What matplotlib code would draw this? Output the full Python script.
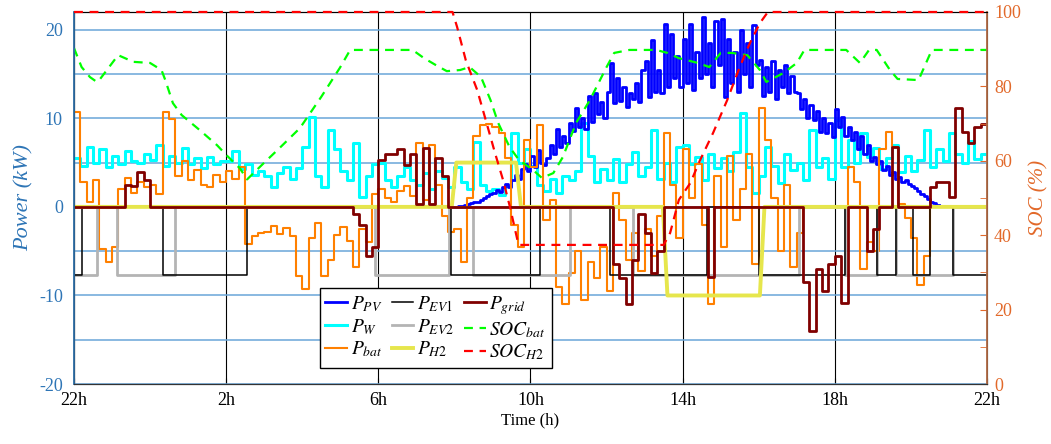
import numpy as np
import matplotlib
matplotlib.use('Agg')
import matplotlib.pyplot as plt
from matplotlib.ticker import MultipleLocator

plt.rcParams['font.family'] = ['Liberation Serif', 'DejaVu Serif']
plt.rcParams['mathtext.fontset'] = 'stix'
plt.rcParams['axes.unicode_minus'] = False

# PV: 5-minute samples from 8h (10 h after 22h) until sunset
pv_start = 10.0
p_pv = [
    0.0, 0.05, 0.1, 0.2, 0.3, 0.4, 0.5, 0.6, 0.8, 1.0, 1.2, 1.4,
    1.6, 1.9, 1.7, 2.3, 2.6, 2.2, 3.0, 3.6, 3.2, 4.3, 4.8, 4.1,
    5.8, 4.5, 6.4, 5.0, 4.7, 5.5, 7.0, 6.0, 8.8, 6.8, 8.0, 7.2,
    9.5, 8.6, 11.2, 9.0, 10.0, 8.8, 12.5, 9.6, 12.8, 10.5, 11.8, 10.0,
    13.0, 16.2, 11.7, 14.5, 12.0, 13.5, 11.3, 12.8, 12.2, 14.0, 11.8, 15.5,
    16.5, 12.4, 18.8, 13.0, 15.5, 12.8, 20.7, 13.5, 19.5, 14.5, 17.0, 13.5,
    19.0, 14.0, 20.7, 13.2, 17.5, 14.5, 21.4, 15.0, 18.5, 13.5, 21.0, 16.0,
    21.2, 12.4, 19.0, 14.0, 17.5, 13.0, 20.0, 15.0, 18.5, 13.5, 20.5, 16.0,
    16.6, 12.5, 15.8, 13.0, 16.5, 12.2, 15.5, 13.5, 16.0, 12.8, 14.8, 13.0,
    12.8, 11.0, 12.2, 10.0, 11.5, 9.8, 10.8, 8.5, 10.0, 8.3, 9.5, 7.9,
    11.0, 9.0, 10.2, 8.0, 9.0, 7.5, 8.5, 6.5, 8.0, 6.0, 7.0, 5.2,
    5.6, 4.8, 5.2, 4.2, 4.6, 3.6, 3.9, 3.2, 3.4, 2.8, 3.0, 2.6,
    2.4, 2.1, 1.8, 1.5, 1.2, 0.9, 0.6, 0.4, 0.2]

# 10-minute samples, from 22h to 22h next day (144 values)
p_w = [
    5.5, 4.6, 6.8, 5.0, 6.5, 4.5,
    5.8, 4.8, 6.3, 5.2, 4.9, 6.0,
    5.3, 7.0, 4.6, 5.8, 5.0, 6.6,
    4.8, 5.5, 4.4, 5.6, 4.8, 5.2,
    5.2, 6.3, 4.3, 4.8, 3.6, 4.0,
    3.5, 2.3, 3.8, 4.5, 3.2, 4.4,
    6.8, 10.1, 3.5, 2.2, 8.7, 6.5,
    4.0, 3.0, 7.2, 1.1, 3.5, 4.8,
    5.0, 3.0, 2.2, 3.5, 4.5, 3.0,
    2.5, 3.8, 2.0, 4.0, 3.3, 2.2,
    4.5, 2.8, 2.0, 7.3, 2.5, 1.8,
    2.0, 1.3, 2.4, 8.3, 5.0, 6.5,
    4.6, 2.5, 1.8, 3.2, 1.6, 3.5,
    3.0, 4.0, 9.5, 5.8, 2.8, 4.3,
    3.0, 5.4, 2.8, 4.8, 6.2, 3.5,
    4.5, 8.7, 3.2, 5.0, 2.8, 6.8,
    7.0, 4.8, 5.6, 3.0, 6.0, 4.4,
    5.5, 4.0, 6.2, 10.6, 4.5, 1.6,
    3.5, 6.8, 4.6, 2.7, 6.0, 4.2,
    5.0, 3.0, 8.7, 4.5, 5.5, 3.2,
    9.8, 4.5, 7.5, 5.0, 8.3, 5.6,
    6.6, 4.3, 5.5, 7.0, 3.9, 5.7,
    4.0, 5.3, 8.7, 4.5, 6.5, 5.2,
    8.3, 6.0, 5.0, 7.4, 5.4, 6.0]

p_bat = [
    10.7, 2.8, 0.6, 3.0, -4.8, -6.2,
    -4.5, 2.0, 3.3, 1.6, 2.8, 2.2,
    2.5, 1.5, 10.7, 9.9, 3.5, 5.2,
    3.0, 4.2, 2.5, 2.3, 3.6, 2.8,
    4.0, 3.2, 4.5, -4.2, -3.3, -3.0,
    -2.8, -2.2, -3.1, -2.4, -3.3, -7.8,
    -9.3, -3.5, -1.8, -7.8, -6.0, -3.2,
    -2.3, -3.8, -6.8, -2.5, -4.0, 1.5,
    2.0, 1.0, 0.5, 1.8, 2.4, 1.2,
    7.2, 0.8, 7.0, 2.5, -1.0, -2.8,
    -2.5, -6.2, 1.0, 8.0, 9.2, 9.4,
    9.0, 8.3, 5.5, -2.0, -4.5, 7.5,
    4.5, 9.2, -1.5, 0.8, -9.0, -11.0,
    -7.5, -5.0, -10.5, -6.2, -8.0, -4.5,
    -9.5, 1.6, -1.5, -6.0, -3.0, -7.2,
    -2.5, -5.5, -1.0, 8.3, 2.5, -3.5,
    6.5, 1.0, 4.8, -2.0, -11.0, 3.5,
    -4.5, 5.8, -1.5, 2.0, 6.0, -6.5,
    11.2, 7.5, 1.0, -5.0, 2.5, -6.8,
    -3.0, 0.0, 0.0, 0.0, 0.0, 0.0,
    0.0, 0.0, 4.5, 2.8, -7.0, -4.0,
    -5.0, 6.5, 8.5, 6.8, 0.3, -1.2,
    -3.5, -8.8, -5.5, 0.0, 0.0, 0.0,
    0.0, 0.0, 0.0, 0.0, 0.0, 0.0]

p_grid = [0.0] * 6 + [
    0.0, 0.0, 2.5, 2.4, 3.9, 3.0] + [0.0] * 30 + [
    0.0, 0.0, -0.8, -2.0, -5.6, -4.5,
    5.3, 6.0, 6.0, 6.5, 4.7, 6.0,
    0.3, 6.6, 0.3, 5.5, 3.5, 0.0] + [0.0] * 24 + [
    0.0, -6.5, -8.0, -11.0, -6.0, -0.8,
    -3.0, -7.5, -5.0, 0.0, 0.0, 0.0,
    0.0, 0.0, 0.0, 0.0, -7.9, 0.0] + [0.0] * 12 + [
    0.0, -8.5, -14.0, -7.0, -9.5, -6.5,
    -5.5, -10.8, 0.0, 0.0, 0.0, -5.0,
    -2.5, 0.0, 0.0, 6.8, 0.0, 0.0,
    0.0, 0.0, 0.0, 2.3, 2.8, 2.8,
    1.1, 11.2, 8.5, 7.2, 9.0, 9.3]

# switching events (hours after 22h)
ev1_t = [0, 0.2, 2.34, 4.55, 9.9, 12.25, 14.1, 16.65, 18.0, 20.27, 21.1, 21.6, 22.05, 22.5, 23.1, 24]
ev1_p = [-7.7, 0, -7.7, 0, -7.7, 0, -7.7, 0, -7.7, 0, -7.7, 0, -7.7, 0, -7.7, -7.7]
ev2_t = [0, 0.6, 1.13, 2.65, 7.9, 9.85, 10.5, 13.05, 14.7, 19.05, 20.27, 21.1, 21.6, 23.1, 24]
ev2_p = [-7.7, 0, -7.7, 0, -7.7, 0, -7.7, 0, -7.7, 0, -7.7, 0, -7.7, 0, 0]
h2_t = [0, 9.93, 10.05, 11.62, 11.75, 15.48, 15.6, 18.03, 18.15, 24]
h2_p = [0, 0, 5.0, 5.0, 0, 0, -10.0, -10.0, 0, 0]

soc_bat_t = [0, 0.2, 0.42, 0.6, 0.65, 1.16, 1.56, 2.0, 2.3, 2.4, 2.6, 2.83, 3.3, 3.76, 4.0,
             4.36, 4.55, 5.0, 5.4, 5.94, 6.5, 6.99, 7.26, 8.9, 9.2, 9.5, 9.8, 10.15, 10.4,
             10.7, 10.95, 11.15, 11.45, 11.7, 12.07, 12.3, 12.6, 12.85, 13.2, 13.56, 14.0,
             14.2, 14.6, 15.3, 15.6, 15.9, 16.4, 16.7, 17.0, 17.3, 17.7, 18.03, 18.2, 18.65,
             19.0, 19.2, 20.3, 20.66, 20.9, 21.1, 21.45, 21.65, 22.2, 22.55, 24]
soc_bat = [90.3, 85.2, 82.5, 81.2, 81.5, 88.4, 86.6, 86.3, 84.4, 81.7, 75.5, 72.3, 68.3, 64.2, 61.6,
           58.0, 55.0, 59.5, 63.4, 68.8, 77.2, 85.0, 89.8, 89.8, 87.6, 85.8, 84.1, 84.4, 85.2,
           82.5, 76.3, 70.2, 63.7, 60.2, 57.5, 55.4, 56.7, 61.0, 70.2, 76.3, 85.2,
           89.0, 89.8, 89.8, 89.0, 87.6, 86.3, 85.2, 89.0, 89.0, 88.4, 84.4, 81.2, 83.6,
           86.3, 89.8, 89.8, 86.3, 89.8, 89.8, 84.4, 82.0, 81.7, 89.8, 89.8]

soc_h2_t = [0, 9.95, 10.07, 10.3, 10.6, 10.85, 11.07, 11.28, 11.46, 11.65, 11.7, 15.5, 15.67,
            15.9, 16.2, 16.45, 16.8, 17.17, 17.5, 17.77, 18.03, 18.24, 24]
soc_h2 = [100, 100, 96, 87, 79, 70, 62, 54.8, 47.6, 39, 37.4, 37.4, 40.6,
          49.5, 54, 60, 67.5, 76.3, 85.2, 91.7, 97, 100, 100]

tick_hours = [0, 4, 8, 12, 16, 20, 24]
tick_labels = ['22h', '2h', '6h', '10h', '14h', '18h', '22h']

t10 = np.arange(len(p_w)) / 6.0
te = np.append(t10, 24.0)
tpv = pv_start + np.arange(len(p_pv) + 1) / 12.0


def ext(v):
    return np.append(v, v[-1])


fig = plt.figure(figsize=(10.51, 4.44), dpi=100)
ax = fig.add_axes([0.0704, 0.135, 0.8687, 0.838])
ax2 = ax.twinx()

blue_c = '#2e75b6'
soc_c = '#e2692a'

l_w, = ax.step(te, ext(p_w), where='post', color='#00ffff', lw=2.2)
l_pv, = ax.step(tpv, ext(p_pv), where='post', color='#0000ff', lw=2.0)
l_bat, = ax.step(te, ext(p_bat), where='post', color='#ff8000', lw=1.5)
l_ev2, = ax.step(ev2_t, ev2_p, where='post', color='#b4b4b4', lw=2.0)
l_ev1, = ax.step(ev1_t, ev1_p, where='post', color='black', lw=1.1)
l_h2, = ax.plot(h2_t, h2_p, color='#e6e64c', lw=2.8)
l_grid, = ax.step(te, ext(p_grid), where='post', color='#800000', lw=2.0)

l_sb, = ax2.plot(soc_bat_t, soc_bat, color='#00ff00', lw=1.6, dashes=(4, 3))
l_sh, = ax2.plot(soc_h2_t, soc_h2, color='#ff0000', lw=1.6, dashes=(4, 3),
                 clip_on=False, zorder=3)

ax.set_xlim(0, 24)
ax.set_ylim(-20, 22)
ax2.set_ylim(0, 100)

ax.set_xticks(tick_hours)
ax.set_xticklabels(tick_labels)
ax.yaxis.set_major_locator(MultipleLocator(10))
ax.yaxis.set_minor_locator(MultipleLocator(5))
ax.set_axisbelow(True)
ax.grid(True, which='both', axis='y', color='#6aa6d8', lw=1.1)
ax.grid(True, which='major', axis='x', color='black', lw=0.8)

ax.tick_params(axis='x', labelsize=13, colors='black', direction='in', length=4, pad=6)
ax.tick_params(axis='y', which='both', labelsize=13, colors=blue_c, direction='in', length=0, pad=8)
ax2.yaxis.set_major_locator(MultipleLocator(20))
ax2.yaxis.set_minor_locator(MultipleLocator(10))
ax2.tick_params(axis='y', which='both', labelsize=13, colors=soc_c, direction='in', length=5, pad=5)

ax.set_xlabel('Time (h)', fontsize=12, labelpad=2)
ax.set_ylabel('Power (kW)', fontsize=16, style='italic', color=blue_c, labelpad=4)
ax2.set_ylabel('SOC (%)', fontsize=15, style='italic', color=soc_c, labelpad=6)

ax2.spines['left'].set_color('#2e6da4')
ax2.spines['right'].set_color('#b06a44')
ax2.spines['left'].set_linewidth(1.3)
ax2.spines['right'].set_linewidth(1.3)
ax2.spines['bottom'].set_color('#333333')

handles = [l_pv, l_w, l_bat, l_ev1, l_ev2, l_h2, l_grid, l_sb, l_sh]
labels = [r'$P_{PV}$', r'$P_{W}$', r'$P_{bat}$', r'$P_{EV1}$', r'$P_{EV2}$', r'$P_{H2}$',
          r'$P_{grid}$', r'$SOC_{bat}$', r'$SOC_{H2}$']
leg = ax2.legend(handles, labels, ncol=3, loc='lower left', bbox_to_anchor=(0.269, 0.043),
                 borderaxespad=0, fontsize=14, handlelength=1.1, handletextpad=0.2,
                 columnspacing=0.5, labelspacing=0.15, borderpad=0.3,
                 fancybox=False, framealpha=1, edgecolor='black')
leg.get_frame().set_linewidth(1.0)

fig.savefig('out.png', dpi=100)
